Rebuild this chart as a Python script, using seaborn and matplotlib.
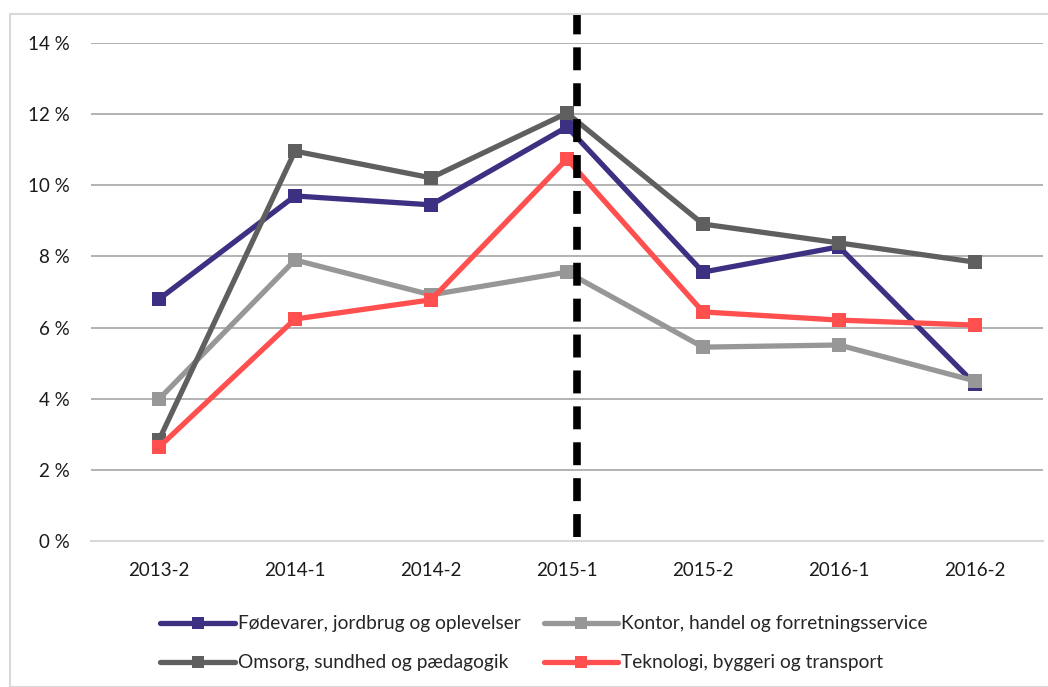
import matplotlib
matplotlib.use("Agg")
import matplotlib.pyplot as plt
import matplotlib.lines as mlines
import matplotlib.patches as mpatches
import seaborn as sns
import pandas as pd

periods = ["2013-2", "2014-1", "2014-2", "2015-1", "2015-2", "2016-1", "2016-2"]
series_names = [
    "Fødevarer, jordbrug og oplevelser",
    "Kontor, handel og forretningsservice",
    "Omsorg, sundhed og pædagogik",
    "Teknologi, byggeri og transport",
]
fodevarer = [6.80, 9.70, 9.45, 11.64, 7.56, 8.27, 4.41]
kontor = [3.99, 7.90, 6.92, 7.56, 5.45, 5.51, 4.50]
omsorg = [2.84, 10.96, 10.21, 12.03, 8.91, 8.38, 7.84]
teknologi = [2.64, 6.24, 6.78, 10.74, 6.44, 6.21, 6.07]
colors = ["#3C3082", "#979797", "#5F5F5F", "#FF4F4F"]
yticks = [0, 2, 4, 6, 8, 10, 12, 14]
divider_x = 3.07

sns.set_style("white")
plt.rcParams["font.family"] = ["Lato", "DejaVu Sans"]

rows = []
for name, vals in zip(series_names, [fodevarer, kontor, omsorg, teknologi]):
    for i, (p, v) in enumerate(zip(periods, vals)):
        rows.append({"idx": i, "period": p, "serie": name, "value": v})
df = pd.DataFrame(rows)

fig = plt.figure(figsize=(10.48, 6.87), dpi=100)
fig.patches.append(mpatches.Rectangle((10 / 1048, 0), 1.2, (687 - 14) / 687,
                                      transform=fig.transFigure, fill=False,
                                      edgecolor="#D9D9D9", linewidth=1.5, zorder=0))
ax = fig.add_axes([91 / 1048, (687 - 541) / 687, (1043 - 91) / 1048, (541 - 43) / 687])

sns.lineplot(data=df, x="idx", y="value", hue="serie", hue_order=series_names,
             palette=colors, marker="s", markersize=10, markeredgewidth=0,
             linewidth=3.8, dashes=False, legend=False, ax=ax, zorder=3)

ax.set_xlim(-0.5, 6.5)
ax.set_ylim(0, 14)
ax.set_yticks(yticks)
ax.set_yticklabels([f"{t} %" for t in yticks])
ax.set_xticks(range(len(periods)))
ax.set_xticklabels(periods)
ax.set_xlabel("")
ax.set_ylabel("")
for s in ["top", "right", "left"]:
    ax.spines[s].set_visible(False)
ax.spines["bottom"].set_color("#D9D9D9")
ax.spines["bottom"].set_linewidth(1.5)
for t in yticks[1:]:
    ax.axhline(t, color="#A6A6A6", linewidth=1.2, zorder=1)
ax.tick_params(axis="both", length=0, labelsize=13.5, colors="#1a1a1a")
ax.tick_params(axis="x", pad=15)
ax.tick_params(axis="y", pad=15)

ax.plot([divider_x, divider_x], [0.008, 1.056], transform=ax.get_xaxis_transform(),
        color="black", linewidth=5.5, linestyle=(0, (3.0, 1.7)), clip_on=False, zorder=5)

order = [0, 2, 1, 3]
handles = [mlines.Line2D([], [], color=colors[i], linewidth=3.8, marker="s", markersize=9,
                         markeredgewidth=0) for i in order]
labels = [series_names[i] for i in order]
leg = fig.legend(handles, labels, loc="upper left", ncol=2,
                 bbox_to_anchor=(143 / 1048, (687 - 598) / 687), frameon=False,
                 fontsize=13.8, handlelength=3.9, handletextpad=0.15, columnspacing=1.2,
                 labelspacing=1.15)

fig.savefig("out.png", dpi=100)
